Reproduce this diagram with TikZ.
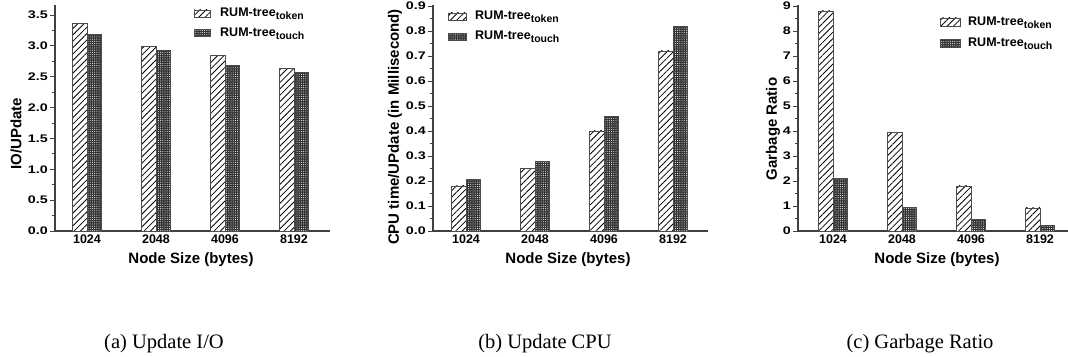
\documentclass[tikz,border=0pt]{standalone}
\usepackage{fontspec}
\setmainfont{Liberation Serif}
\setsansfont{Liberation Sans}
\newfontfamily\widesans[FakeStretch=1.3]{Liberation Sans}
\usetikzlibrary{patterns, patterns.meta}

\begin{document}
\begin{tikzpicture}[
    x=1pt, y=1pt,
    axis/.style={draw=black!75, line width=1.1pt},
    tick/.style={draw=black!75, line width=0.8pt},
    ticklabel/.style={anchor=east, inner sep=1pt, font=\widesans\bfseries\fontsize{11}{12}\selectfont},
    xlabel/.style={anchor=north, inner sep=1pt, yshift=-3pt, font=\sffamily\bfseries\fontsize{12.5}{13}\selectfont},
    axtitle/.style={inner sep=0pt, font=\sffamily\bfseries\fontsize{15}{16}\selectfont},
    legtext/.style={anchor=base west, inner sep=0pt, font=\sffamily\bfseries\fontsize{12.5}{13}\selectfont},
    tokenbar/.style={draw=black!70, line width=0.8pt, preaction={fill=white},
        pattern={Lines[angle=45, distance=4.5pt, line width=0.8pt]}},
    touchbar/.style={draw=black!70, line width=0.8pt, preaction={fill=black!80},
        pattern={Dots[radius=0.5pt, distance=2.2pt]}, pattern color=white},
    caption/.style={anchor=base, font=\fontsize{20.5}{24}\selectfont}
]
    \useasboundingbox (0,0) rectangle (1068,356);

    % (a) update I/O
    \begin{scope}[shift={(55,125)}, y=61.7pt]
        \draw[axis] (0,3.66) -- (0,0) -- (275,0);
        \foreach \v/\l [count=\i] in {0/0.0, 0.5/0.5, 1/1.0, 1.5/1.5, 2/2.0, 2.5/2.5, 3/3.0, 3.5/3.5} {
            \draw[tick] (0,\v) -- (-5,\v);
            \node[ticklabel] (ya\i) at (-6,\v) {\l};
        }
        \foreach \v in {0.25,0.75,...,3.25} \draw[tick] (0,\v) -- (-3,\v);
        \foreach \c/\a/\b/\n [count=\i] in {32/3.37/3.18/1024, 101/2.99/2.93/2048, 170/2.84/2.69/4096, 239/2.63/2.57/8192} {
            \draw[tokenbar] (\c-14.5,0) rectangle (\c,\a);
            \draw[touchbar] (\c,0) rectangle (\c+14.5,\b);
            \node[xlabel] (xa\i) at (\c,0) {\n};
        }
    \end{scope}
    \node[axtitle, rotate=90] (ytitlea) at (16,222) {IO/UPdate};
    \node[axtitle] (xtitlea) at (191,96) {Node Size (bytes)};
    \draw[tokenbar] (194,339) rectangle (210,346);
    \node[legtext] (tokena) at (220,339) {RUM-tree\raisebox{-3pt}{\fontsize{10.5}{11}\selectfont token}};
    \draw[touchbar] (194,319.5) rectangle (210,326.5);
    \node[legtext] (toucha) at (220,319.5) {RUM-tree\raisebox{-3pt}{\fontsize{10.5}{11}\selectfont touch}};

    % (b) update CPU
    \begin{scope}[shift={(433,125)}, y=250pt]
        \draw[axis] (0,0.904) -- (0,0) -- (275,0);
        \foreach \v/\l [count=\i] in {0/0.0, 0.1/0.1, 0.2/0.2, 0.3/0.3, 0.4/0.4, 0.5/0.5, 0.6/0.6, 0.7/0.7, 0.8/0.8, 0.9/0.9} {
            \draw[tick] (0,\v) -- (-5,\v);
            \node[ticklabel] (yb\i) at (-6,\v) {\l};
        }
        \foreach \v in {0.05,0.15,...,0.85} \draw[tick] (0,\v) -- (-3,\v);
        \foreach \c/\a/\b/\n [count=\i] in {33/0.18/0.205/1024, 102/0.25/0.28/2048, 171/0.40/0.46/4096, 240/0.72/0.82/8192} {
            \draw[tokenbar] (\c-14.5,0) rectangle (\c,\a);
            \draw[touchbar] (\c,0) rectangle (\c+14.5,\b);
            \node[xlabel] (xb\i) at (\c,0) {\n};
        }
    \end{scope}
    \node[axtitle, rotate=90] (ytitleb) at (395,229) {CPU time/UPdate (in Millisecond)};
    \node[axtitle] (xtitleb) at (568,96) {Node Size (bytes)};
    \draw[tokenbar] (448,336) rectangle (466,343);
    \node[legtext] (tokenb) at (475,336) {RUM-tree\raisebox{-3pt}{\fontsize{10.5}{11}\selectfont token}};
    \draw[touchbar] (448,316) rectangle (466,323);
    \node[legtext] (touchb) at (475,316) {RUM-tree\raisebox{-3pt}{\fontsize{10.5}{11}\selectfont touch}};

    % (c) garbage ratio
    \begin{scope}[shift={(798,125)}, y=25pt]
        \draw[axis] (0,9.04) -- (0,0) -- (270,0);
        \foreach \v [count=\i] in {0,...,9} {
            \draw[tick] (0,\v) -- (-5,\v);
            \node[ticklabel] (yc\i) at (-6,\v) {\v};
        }
        \foreach \v in {0.5,1.5,...,8.5} \draw[tick] (0,\v) -- (-3,\v);
        \foreach \c/\a/\b/\n [count=\i] in {35/8.8/2.12/1024, 104/3.95/0.95/2048, 173/1.8/0.47/4096, 242/0.92/0.22/8192} {
            \draw[tokenbar] (\c-14.5,0) rectangle (\c,\a);
            \draw[touchbar] (\c,0) rectangle (\c+14.5,\b);
            \node[xlabel] (xc\i) at (\c,0) {\n};
        }
    \end{scope}
    \node[axtitle, rotate=90] (ytitlec) at (773,227) {Garbage Ratio};
    \node[axtitle] (xtitlec) at (937,96) {Node Size (bytes)};
    \draw[tokenbar] (940,330) rectangle (960,338);
    \node[legtext] (tokenc) at (968,330) {RUM-tree\raisebox{-3pt}{\fontsize{10.5}{11}\selectfont token}};
    \draw[touchbar] (940,309) rectangle (960,317);
    \node[legtext] (touchc) at (968,309) {RUM-tree\raisebox{-3pt}{\fontsize{10.5}{11}\selectfont touch}};

    % captions
    \node[caption] (capa) at (164,8) {(a) Update I/O};
    \node[caption] (capb) at (545,8) {(b) Update CPU};
    \node[caption] (capc) at (920,8) {(c) Garbage Ratio};
\end{tikzpicture}
\end{document}
